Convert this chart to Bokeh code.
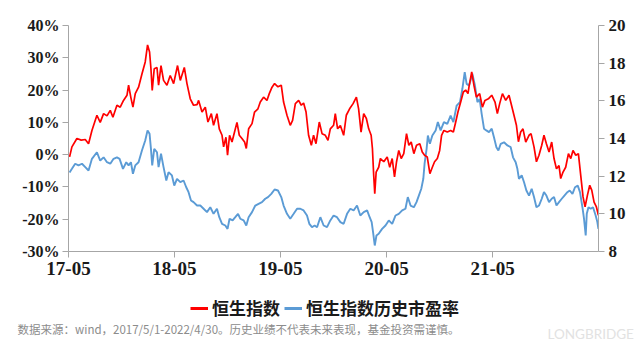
import pandas as pd
from bokeh.plotting import figure
from bokeh.layouts import column, row
from bokeh.models import (Range1d, LinearAxis, FixedTicker, DatetimeTickFormatter,
                          PrintfTickFormatter, Legend, LegendItem, Label)
from bokeh.embed import file_html
from bokeh.resources import INLINE

# ---- data ----
hsi_year = [2017.339, 2017.361, 2017.408, 2017.449, 2017.487, 2017.518, 2017.550, 2017.597, 2017.628, 2017.660,
            2017.692, 2017.723, 2017.748, 2017.786, 2017.817, 2017.848, 2017.881, 2017.896, 2017.918, 2017.937,
            2017.959, 2017.990, 2018.022, 2018.053, 2018.075, 2018.094, 2018.107, 2018.119, 2018.138, 2018.164,
            2018.179, 2018.202, 2018.226, 2018.258, 2018.289, 2018.321, 2018.358, 2018.384, 2018.422, 2018.447,
            2018.478, 2018.509, 2018.542, 2018.557, 2018.589, 2018.620, 2018.645, 2018.677, 2018.698, 2018.730,
            2018.752, 2018.778, 2018.793, 2018.815, 2018.830, 2018.849, 2018.872, 2018.896, 2018.919, 2018.941,
            2018.966, 2018.991, 2019.007, 2019.029, 2019.061, 2019.085, 2019.117, 2019.139, 2019.170, 2019.202,
            2019.224, 2019.250, 2019.274, 2019.306, 2019.337, 2019.359, 2019.391, 2019.422, 2019.444, 2019.470,
            2019.501, 2019.526, 2019.548, 2019.571, 2019.595, 2019.621, 2019.642, 2019.665, 2019.696, 2019.722,
            2019.753, 2019.778, 2019.800, 2019.831, 2019.847, 2019.869, 2019.895, 2019.926, 2019.951, 2019.982,
            2020.015, 2020.046, 2020.067, 2020.090, 2020.115, 2020.140, 2020.162, 2020.185, 2020.197, 2020.209,
            2020.219, 2020.232, 2020.256, 2020.272, 2020.304, 2020.336, 2020.360, 2020.383, 2020.405, 2020.424,
            2020.445, 2020.468, 2020.492, 2020.518, 2020.540, 2020.562, 2020.587, 2020.612, 2020.643, 2020.666,
            2020.688, 2020.713, 2020.738, 2020.761, 2020.782, 2020.808, 2020.830, 2020.848, 2020.870, 2020.902,
            2020.933, 2020.959, 2020.981, 2021.002, 2021.028, 2021.053, 2021.075, 2021.097, 2021.106, 2021.132,
            2021.153, 2021.176, 2021.207, 2021.233, 2021.257, 2021.289, 2021.321, 2021.352, 2021.374, 2021.396,
            2021.422, 2021.453, 2021.484, 2021.500, 2021.531, 2021.554, 2021.573, 2021.594, 2021.616, 2021.642,
            2021.673, 2021.692, 2021.720, 2021.743, 2021.767, 2021.793, 2021.814, 2021.837, 2021.862, 2021.887,
            2021.909, 2021.932, 2021.956, 2021.972, 2021.994, 2022.019, 2022.045, 2022.067, 2022.088, 2022.114,
            2022.139, 2022.161, 2022.183, 2022.202, 2022.224, 2022.246, 2022.265, 2022.287, 2022.309, 2022.328]
hsi_pct = [-0.7, 2.4, 5.0, 4.5, 4.7, 3.4, 7.5, 12.2, 10.0, 12.7,
           12.0, 13.7, 11.6, 15.3, 14.7, 16.8, 18.4, 21.5, 17.6, 14.7,
           18.9, 20.9, 25.0, 28.7, 34.0, 31.8, 26.6, 19.9, 26.6, 27.0,
           21.5, 27.6, 23.0, 21.5, 24.5, 22.0, 27.6, 23.0, 27.0, 22.0,
           17.3, 15.3, 15.5, 16.8, 13.2, 14.7, 10.1, 12.7, 9.1, 12.7,
           8.0, 6.0, 2.4, 5.4, -0.2, 6.0, 3.9, 7.0, 10.0, 6.0,
           5.0, 3.9, 1.9, 8.0, 9.6, 13.2, 14.2, 16.3, 17.8, 16.8,
           18.9, 20.9, 22.0, 21.0, 21.5, 16.3, 12.2, 9.1, 10.6, 15.8,
           16.8, 15.3, 16.0, 13.2, 6.0, 2.9, 6.0, 3.4, 10.1, 6.5,
           6.0, 4.4, 8.0, 9.1, 12.7, 8.0, 9.0, 6.0, 12.2, 14.2,
           15.8, 17.8, 14.2, 7.0, 12.7, 11.2, 8.0, 6.0, 1.9, -6.4,
           -12.1, -5.4, -3.9, -1.2, -2.2, -0.7, -3.9, -1.2, -6.9, -2.2,
           1.3, -1.2, 0.3, 6.5, 2.9, 3.9, 0.3, 2.9, 3.4, 0.8,
           -0.2, -0.7, -5.9, -3.9, -2.2, -1.2, 1.3, 6.0, 7.5, 7.0,
           7.5, 7.0, 10.1, 13.2, 16.3, 19.4, 20.0, 18.9, 20.9, 25.6,
           21.5, 17.8, 18.9, 14.7, 16.8, 17.3, 18.4, 16.3, 12.7, 15.8,
           18.9, 16.8, 18.4, 16.3, 12.2, 9.1, 4.0, 7.0, 8.0, 3.9,
           6.0, 6.5, 2.4, -2.2, -0.2, 2.9, 6.0, 3.4, 0.8, 3.9,
           -1.2, -4.4, -3.4, -7.4, -5.4, -3.9, 0.3, -1.2, 1.3, -0.2,
           0.3, -6.4, -13.1, -16.2, -12.6, -9.5, -11.0, -14.7, -16.2, -18.8]

pe_year = [2017.339, 2017.361, 2017.392, 2017.423, 2017.456, 2017.487, 2017.518, 2017.550, 2017.597, 2017.628,
           2017.660, 2017.692, 2017.723, 2017.754, 2017.786, 2017.811, 2017.843, 2017.874, 2017.896, 2017.918,
           2017.937, 2017.959, 2017.990, 2018.022, 2018.053, 2018.075, 2018.094, 2018.107, 2018.119, 2018.138,
           2018.164, 2018.179, 2018.202, 2018.226, 2018.252, 2018.273, 2018.305, 2018.327, 2018.353, 2018.384,
           2018.415, 2018.440, 2018.462, 2018.485, 2018.509, 2018.542, 2018.573, 2018.604, 2018.636, 2018.667,
           2018.698, 2018.730, 2018.752, 2018.778, 2018.809, 2018.830, 2018.849, 2018.878, 2018.903, 2018.929,
           2018.950, 2018.982, 2019.007, 2019.029, 2019.061, 2019.092, 2019.123, 2019.155, 2019.186, 2019.212,
           2019.243, 2019.274, 2019.306, 2019.337, 2019.359, 2019.391, 2019.422, 2019.454, 2019.486, 2019.517,
           2019.548, 2019.580, 2019.602, 2019.627, 2019.652, 2019.675, 2019.706, 2019.737, 2019.769, 2019.800,
           2019.831, 2019.863, 2019.895, 2019.926, 2019.958, 2019.989, 2020.020, 2020.052, 2020.083, 2020.115,
           2020.147, 2020.171, 2020.190, 2020.203, 2020.219, 2020.235, 2020.256, 2020.288, 2020.320, 2020.351,
           2020.383, 2020.414, 2020.445, 2020.477, 2020.508, 2020.530, 2020.556, 2020.587, 2020.612, 2020.634,
           2020.657, 2020.676, 2020.688, 2020.707, 2020.719, 2020.738, 2020.761, 2020.792, 2020.813, 2020.839,
           2020.870, 2020.902, 2020.933, 2020.959, 2020.990, 2021.021, 2021.044, 2021.066, 2021.084, 2021.106,
           2021.122, 2021.138, 2021.163, 2021.186, 2021.207, 2021.226, 2021.248, 2021.270, 2021.295, 2021.321,
           2021.342, 2021.365, 2021.384, 2021.406, 2021.437, 2021.469, 2021.500, 2021.522, 2021.547, 2021.563,
           2021.578, 2021.604, 2021.626, 2021.648, 2021.673, 2021.698, 2021.720, 2021.743, 2021.767, 2021.793,
           2021.814, 2021.837, 2021.862, 2021.887, 2021.909, 2021.932, 2021.956, 2021.982, 2022.007, 2022.035,
           2022.057, 2022.083, 2022.107, 2022.133, 2022.154, 2022.177, 2022.192, 2022.208, 2022.218, 2022.234,
           2022.255, 2022.277, 2022.302, 2022.318, 2022.328]
pe_ratio = [12.20, 12.39, 12.66, 12.57, 12.66, 12.48, 12.30, 12.92, 13.27, 12.83,
            13.00, 12.74, 12.66, 12.92, 13.00, 12.92, 12.39, 12.74, 12.57, 12.74,
            12.13, 12.57, 12.74, 13.36, 13.89, 14.43, 14.25, 13.45, 12.57, 13.45,
            13.27, 12.48, 13.19, 12.48, 11.77, 12.21, 12.04, 11.50, 11.86, 11.68,
            11.77, 11.41, 11.15, 10.71, 10.62, 10.44, 10.44, 10.27, 10.09, 10.35,
            10.00, 10.27, 9.82, 9.47, 9.38, 9.20, 9.74, 9.65, 9.82, 10.00,
            9.74, 9.65, 9.38, 9.82, 10.09, 10.44, 10.53, 10.62, 10.80, 10.89,
            11.06, 11.29, 11.24, 10.89, 10.44, 10.00, 9.74, 10.00, 10.27, 10.27,
            10.18, 9.91, 9.47, 9.29, 9.38, 9.29, 9.82, 9.38, 9.29, 9.65,
            9.91, 9.82, 9.56, 9.47, 10.00, 10.27, 10.18, 10.44, 9.91, 10.09,
            10.18, 9.82, 9.56, 9.03, 8.32, 8.85, 8.94, 9.20, 9.38, 9.65,
            9.47, 9.91, 10.00, 10.18, 10.27, 10.89, 10.44, 10.35, 10.62, 10.97,
            11.33, 11.86, 12.66, 13.45, 14.16, 13.72, 14.16, 14.43, 14.87, 14.43,
            14.87, 14.78, 15.22, 14.87, 15.75, 15.93, 16.64, 17.52, 16.90, 16.81,
            17.10, 17.44, 16.80, 15.93, 16.10, 15.31, 14.52, 14.43, 14.34, 14.52,
            14.07, 13.54, 13.36, 13.72, 13.80, 13.63, 13.54, 13.00, 12.74, 12.39,
            11.86, 12.04, 11.68, 11.24, 10.97, 11.33, 10.89, 10.35, 10.44, 10.80,
            11.15, 10.97, 10.62, 10.80, 10.89, 10.44, 10.62, 10.80, 10.97, 11.15,
            11.24, 11.06, 11.41, 11.50, 11.15, 10.35, 9.74, 8.85, 10.00, 10.35,
            10.27, 10.35, 9.91, 9.56, 9.20]

x_tick_dates = ["2017-05-01", "2018-05-01", "2019-05-01", "2020-05-01", "2021-05-01"]
left_ticks = [-30, -20, -10, 0, 10, 20, 30, 40]
right_ticks = [8, 10, 12, 14, 16, 18, 20]
series_names = ["恒生指数", "恒生指数历史市盈率"]
footnote = "数据来源：wind，2017/5/1-2022/4/30。历史业绩不代表未来表现，基金投资需谨慎。"
watermark = "LONGBRIDGE"


def to_dt(years):
    out = []
    for y in years:
        yi = int(y)
        start = pd.Timestamp(yi, 1, 1)
        days = (pd.Timestamp(yi + 1, 1, 1) - start).days
        out.append(start + pd.Timedelta(days=(y - yi) * days))
    return out


hsi_dt = to_dt(hsi_year)
pe_dt = to_dt(pe_year)

RED = "#ff0000"
BLUE = "#5b9bd5"
AXIS = "#a6a6a6"
TICK_FONT = "Liberation Serif"
CJK = "Noto Sans CJK SC"

# ---------------- main chart ----------------
p = figure(width=640, height=286, x_axis_type="datetime", output_backend="svg",
           toolbar_location=None, min_border_left=68, min_border_right=42,
           min_border_top=25, min_border_bottom=35,
           x_range=Range1d(pd.Timestamp("2017-05-01"), pd.Timestamp("2022-05-01")),
           y_range=Range1d(-30, 40))
p.extra_y_ranges = {"pe": Range1d(8, 20)}
p.outline_line_color = None
p.grid.visible = False

p.line(pe_dt, pe_ratio, color=BLUE, line_width=1.9, y_range_name="pe")
p.line(hsi_dt, hsi_pct, color=RED, line_width=1.7)

xa = p.xaxis[0]
xa.ticker = FixedTicker(ticks=[pd.Timestamp(d).value / 1e6 for d in x_tick_dates])
xa.formatter = DatetimeTickFormatter(days="%y-%m", months="%y-%m", years="%y-%m")
ya = p.yaxis[0]
ya.ticker = FixedTicker(ticks=left_ticks)
ya.formatter = PrintfTickFormatter(format="%d%%")
ra = LinearAxis(y_range_name="pe", ticker=FixedTicker(ticks=right_ticks))
p.add_layout(ra, "right")

for ax, fs in ((xa, "19px"), (ya, "16px"), (ra, "17px")):
    ax.axis_line_color = AXIS
    ax.major_tick_line_color = AXIS
    ax.minor_tick_line_color = None
    ax.major_tick_out = 6
    ax.major_tick_in = 0
    ax.major_label_text_font = TICK_FONT
    ax.major_label_text_font_style = "bold"
    ax.major_label_text_font_size = fs
    ax.major_label_text_color = "#1a1a1a"
xa.major_label_standoff = 4
ya.major_label_standoff = 3
ra.major_label_standoff = 4

# ---------------- legend / footnote strip ----------------
q = figure(width=640, height=65, output_backend="svg", toolbar_location=None,
           min_border_left=0, min_border_right=0, min_border_top=0, min_border_bottom=0,
           x_range=Range1d(0, 640), y_range=Range1d(0, 65),
           x_axis_location=None, y_axis_location=None)
q.outline_line_color = None
q.grid.visible = False
# legend swatch renderers, kept outside the visible range (styling only)
off = [-100, -90]
sw_red = q.line(off, off, color=RED, line_width=3)
sw_blue = q.line(off, off, color=BLUE, line_width=3)
legend = Legend(items=[LegendItem(label=series_names[0], renderers=[sw_red]),
                       LegendItem(label=series_names[1], renderers=[sw_blue])],
                orientation="horizontal", location=(190, 31),
                label_text_font=CJK, label_text_font_style="bold",
                label_text_font_size="17px", label_text_color="#1a1a1a",
                glyph_width=18, glyph_height=20, label_height=20, label_standoff=4, spacing=4,
                padding=0, margin=0, border_line_color=None, background_fill_alpha=0)
q.add_layout(legend, "center")
q.add_layout(Label(x=17, y=23, x_units="screen", y_units="screen", text=footnote,
                   text_font=CJK, text_font_size="11.5px",
                   text_color="#8c8c8c", text_baseline="middle"))
q.add_layout(Label(x=547, y=18, x_units="screen", y_units="screen", text=watermark,
                   text_font="Lato", text_font_size="13.5px",
                   text_color="#e2e2e2", text_baseline="middle"))

layout = column(p, row(q), spacing=0)
open("out.html", "w").write(file_html(layout, INLINE))
